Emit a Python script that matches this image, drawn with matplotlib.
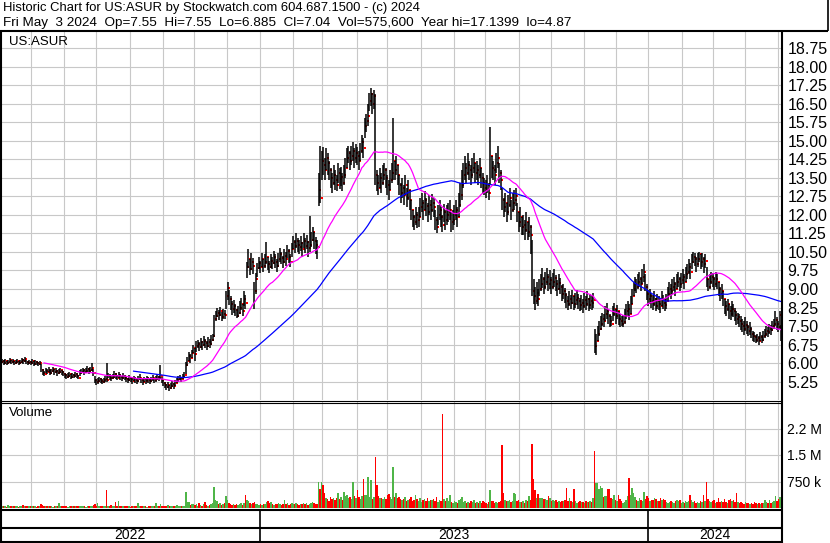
import numpy as np
import pandas as pd
import matplotlib
matplotlib.use("Agg")
import matplotlib.pyplot as plt

plt.rcParams['font.family'] = ['Liberation Sans', 'DejaVu Sans']

# Un valor por dia habil (2022-05-03 .. 2024-05-03)
fechas = pd.bdate_range("2022-05-03", "2024-05-03")

cierre = [
    6.05, 6.10, 6.02, 6.08, 6.00, 6.06, 6.12, 6.04, 6.08, 6.02,
    6.06, 6.10, 6.00, 6.05, 6.12, 6.08, 6.18, 6.04, 6.00, 6.06,
    6.02, 6.08, 5.98, 6.04, 6.00, 5.96, 6.02, 5.72, 5.62, 5.58,
    5.70, 5.66, 5.74, 5.62, 5.68, 5.76, 5.64, 5.70, 5.60, 5.66,
    5.72, 5.64, 5.58, 5.52, 5.46, 5.50, 5.56, 5.44, 5.52, 5.48,
    5.56, 5.50, 5.42, 5.60, 5.66, 5.72, 5.64, 5.70, 5.76, 5.68,
    5.74, 5.80, 5.62, 5.30, 5.22, 5.26, 5.34, 5.28, 5.24, 5.30,
    5.36, 5.30, 5.50, 5.42, 5.38, 5.46, 5.55, 5.48, 5.40, 5.52,
    5.44, 5.38, 5.48, 5.42, 5.36, 5.30, 5.40, 5.34, 5.28, 5.38,
    5.32, 5.26, 5.36, 5.42, 5.30, 5.24, 5.34, 5.28, 5.38, 5.32,
    5.26, 5.34, 5.40, 5.30, 5.36, 5.44, 5.38, 5.50, 5.30, 5.18,
    5.10, 5.04, 5.12, 5.00, 5.06, 5.14, 5.08, 5.20, 5.30, 5.36,
    5.42, 5.34, 5.46, 5.52, 5.92, 6.10, 6.30, 6.20, 6.40, 6.60,
    6.38, 6.70, 6.78, 6.66, 6.84, 6.72, 6.90, 6.80, 6.70, 6.86,
    6.78, 6.94, 7.10, 7.80, 7.90, 8.05, 7.95, 8.10, 7.88, 8.00,
    7.96, 8.70, 9.05, 8.60, 8.40, 8.20, 8.30, 8.15, 7.90, 8.05,
    8.25, 8.40, 8.10, 8.60, 8.45, 9.90, 10.20, 9.80, 10.10, 9.95,
    8.90, 9.40, 9.85, 10.05, 9.90, 10.20, 9.95, 10.10, 10.30, 10.00,
    9.90, 10.15, 10.05, 10.30, 10.10, 9.95, 10.20, 10.40, 10.25, 10.10,
    10.35, 10.20, 10.55, 10.30, 10.10, 10.60, 10.90, 10.75, 10.95, 10.80,
    10.70, 10.85, 10.60, 10.95, 10.75, 10.90, 10.65, 10.80, 11.00, 11.30,
    10.95, 10.80, 10.70, 13.00, 12.70, 14.20, 14.00, 13.80, 14.30, 14.10,
    13.80, 13.50, 13.30, 13.60, 13.40, 13.20, 13.70, 13.45, 13.55, 13.30,
    13.60, 13.90, 14.30, 14.50, 14.20, 14.40, 14.60, 14.30, 14.50, 14.40,
    14.20, 14.60, 14.95, 14.70, 15.60, 15.80, 16.00, 16.60, 16.90, 16.50,
    16.80, 13.60, 13.30, 13.10, 13.50, 13.30, 13.60, 13.80, 13.50, 13.20,
    13.00, 13.40, 13.70, 14.20, 13.80, 14.00, 13.60, 13.20, 12.90, 13.10,
    12.80, 13.20, 12.70, 13.00, 12.60, 12.20, 11.90, 11.70, 12.00, 11.80,
    11.90, 12.30, 12.50, 12.20, 12.60, 12.35, 12.10, 12.40, 12.20, 12.50,
    12.30, 11.80, 11.50, 12.00, 12.20, 11.90, 11.60, 12.10, 11.80, 12.00,
    12.10, 12.20, 11.70, 11.80, 12.00, 12.20, 11.90, 12.40, 12.80, 13.20,
    13.60, 13.90, 13.70, 14.00, 13.80, 13.60, 13.90, 14.10, 13.70, 13.80,
    13.60, 13.90, 13.50, 13.30, 13.10, 13.00, 13.20, 12.90, 14.40, 13.90,
    13.80, 13.60, 14.10, 14.30, 13.70, 13.40, 12.60, 12.30, 12.50, 12.10,
    12.40, 12.70, 12.20, 12.50, 12.60, 12.75, 12.10, 11.70, 11.90, 11.50,
    11.60, 11.40, 11.70, 11.30, 11.50, 11.20, 8.90, 8.70, 8.50, 8.85,
    8.60, 9.00, 9.20, 9.40, 9.10, 9.30, 9.50, 9.20, 9.35, 9.10,
    9.30, 9.45, 9.20, 9.00, 9.25, 9.10, 8.80, 8.90, 8.75, 8.50,
    8.40, 8.60, 8.45, 8.70, 8.40, 8.55, 8.65, 8.50, 8.35, 8.45,
    8.30, 8.55, 8.40, 8.60, 8.35, 8.50, 8.45, 8.55, 6.70, 6.90,
    7.20, 7.40, 7.60, 7.80, 7.70, 8.00, 8.10, 7.90, 7.70, 7.60,
    8.00, 8.20, 7.90, 8.10, 7.80, 7.70, 7.60, 7.65, 7.90, 8.10,
    8.20, 8.00, 8.40, 8.70, 9.00, 9.20, 9.10, 9.30, 9.40, 9.20,
    9.50, 9.70, 9.10, 8.80, 8.60, 8.70, 8.50, 8.40, 8.60, 8.30,
    8.50, 8.40, 8.30, 8.60, 8.45, 8.35, 8.50, 8.80, 9.00, 8.90,
    9.10, 9.20, 9.00, 9.30, 9.40, 9.20, 9.35, 9.50, 9.30, 9.60,
    9.70, 9.90, 9.70, 10.10, 10.30, 10.20, 10.00, 10.20, 10.40, 10.10,
    10.20, 10.00, 10.15, 9.40, 9.10, 9.30, 9.50, 9.40, 9.20, 9.40,
    9.30, 9.00, 8.80, 8.90, 8.60, 8.30, 8.20, 8.40, 8.10, 8.00,
    8.20, 8.10, 7.95, 7.80, 7.85, 7.70, 7.60, 7.50, 7.40, 7.55,
    7.45, 7.30, 7.40, 7.20, 7.10, 7.05, 6.95, 7.00, 6.90, 7.05,
    6.95, 7.10, 7.20, 7.30, 7.25, 7.40, 7.35, 7.50, 7.60, 7.75,
    7.60, 7.45, 7.95, 7.04,
]

maximo = [
    6.14, 6.16, 6.12, 6.15, 6.10, 6.14, 6.20, 6.12, 6.16, 6.10,
    6.14, 6.18, 6.10, 6.14, 6.20, 6.16, 6.26, 6.14, 6.10, 6.14,
    6.10, 6.16, 6.08, 6.12, 6.10, 6.06, 6.10, 5.98, 5.76, 5.70,
    5.80, 5.76, 5.84, 5.74, 5.78, 5.86, 5.76, 5.80, 5.72, 5.76,
    5.82, 5.74, 5.68, 5.62, 5.56, 5.60, 5.66, 5.56, 5.62, 5.58,
    5.66, 5.60, 5.54, 5.72, 5.78, 5.82, 5.76, 5.82, 5.88, 5.80,
    5.86, 6.00, 5.78, 5.50, 5.34, 5.38, 5.46, 5.40, 5.36, 5.42,
    5.48, 6.00, 5.62, 5.56, 5.50, 5.58, 5.68, 5.60, 5.52, 5.66,
    5.56, 5.50, 5.60, 5.54, 5.48, 5.42, 5.52, 5.46, 5.40, 5.50,
    5.44, 5.38, 5.48, 5.56, 5.42, 5.36, 5.46, 5.40, 5.50, 5.44,
    5.38, 5.46, 5.52, 5.42, 5.48, 5.56, 5.50, 5.93, 5.44, 5.30,
    5.22, 5.16, 5.24, 5.12, 5.18, 5.26, 5.20, 5.32, 5.42, 5.48,
    5.54, 5.46, 5.58, 5.66, 6.05, 6.25, 6.45, 6.38, 6.55, 6.75,
    6.62, 6.88, 6.95, 6.84, 7.00, 6.90, 7.08, 6.98, 6.88, 7.04,
    6.98, 7.12, 7.20, 7.95, 8.10, 8.22, 8.15, 8.28, 8.06, 8.18,
    8.15, 8.90, 9.30, 8.95, 8.70, 8.50, 8.55, 8.40, 8.20, 8.30,
    8.50, 8.65, 8.40, 8.90, 8.75, 10.10, 10.60, 10.20, 10.45, 10.25,
    9.30, 9.65, 10.05, 10.30, 10.15, 10.45, 10.20, 10.40, 10.90, 10.30,
    10.15, 10.40, 10.30, 10.55, 10.40, 10.20, 10.45, 10.65, 10.50, 10.35,
    10.60, 10.50, 10.80, 10.60, 10.40, 10.85, 11.15, 11.00, 11.25, 11.05,
    11.00, 11.15, 10.90, 11.25, 11.05, 11.20, 10.95, 11.95, 11.30, 11.50,
    11.30, 11.10, 11.00, 13.70, 14.80, 14.60, 14.75, 14.30, 14.70, 14.50,
    14.20, 13.90, 13.70, 14.00, 13.80, 13.60, 14.10, 13.90, 13.95, 13.70,
    14.00, 14.30, 14.70, 14.80, 14.60, 14.80, 14.95, 14.70, 14.85, 14.75,
    14.60, 14.90, 15.25, 15.10, 15.90, 16.10, 16.50, 16.95, 17.14, 16.95,
    17.05, 16.90, 13.80, 13.60, 13.90, 13.70, 14.00, 14.10, 13.90, 13.60,
    13.40, 13.80, 14.10, 15.90, 14.20, 14.40, 14.00, 13.60, 13.30, 13.50,
    13.20, 13.60, 13.10, 13.40, 13.00, 12.60, 12.20, 12.00, 12.30, 12.10,
    12.30, 12.70, 12.90, 12.60, 12.95, 12.70, 12.50, 12.80, 12.60, 12.85,
    12.70, 12.20, 11.90, 12.40, 12.60, 12.30, 12.00, 12.45, 12.20, 12.40,
    12.50, 12.60, 12.10, 12.20, 12.40, 12.60, 12.30, 12.90, 13.30, 13.80,
    14.10, 14.40, 14.10, 14.50, 14.20, 14.00, 14.30, 14.50, 14.10, 14.20,
    14.00, 14.30, 13.90, 13.70, 13.50, 13.40, 13.60, 13.30, 15.55, 14.40,
    14.20, 14.00, 14.50, 14.80, 14.10, 13.80, 13.10, 12.70, 12.90, 12.50,
    12.80, 13.10, 12.60, 12.90, 13.00, 13.10, 12.50, 12.10, 12.30, 11.90,
    12.00, 11.80, 12.10, 11.70, 11.90, 11.60, 11.00, 9.40, 9.10, 9.30,
    9.00, 9.40, 9.60, 9.85, 9.50, 9.70, 9.85, 9.60, 9.75, 9.50,
    9.65, 9.80, 9.55, 9.35, 9.60, 9.45, 9.15, 9.20, 9.05, 8.85,
    8.70, 8.90, 8.75, 8.95, 8.70, 8.85, 8.95, 8.80, 8.65, 8.75,
    8.60, 8.85, 8.70, 8.90, 8.65, 8.80, 8.75, 8.85, 7.40, 7.20,
    7.50, 7.70, 7.90, 8.05, 8.00, 8.30, 8.45, 8.20, 8.00, 7.90,
    8.30, 8.45, 8.20, 8.35, 8.10, 8.00, 7.90, 7.95, 8.20, 8.40,
    8.50, 8.40, 8.70, 9.00, 9.30, 9.50, 9.40, 9.60, 9.70, 9.50,
    9.80, 10.00, 9.60, 9.20, 8.95, 9.00, 8.85, 8.75, 8.90, 8.65,
    8.80, 8.70, 8.60, 8.90, 8.75, 8.65, 8.80, 9.10, 9.30, 9.20,
    9.40, 9.50, 9.30, 9.60, 9.70, 9.50, 9.65, 9.80, 9.60, 9.90,
    10.00, 10.20, 10.05, 10.40, 10.50, 10.45, 10.30, 10.45, 10.50, 10.40,
    10.45, 10.30, 10.40, 9.90, 9.40, 9.60, 9.70, 9.65, 9.50, 9.70,
    9.60, 9.30, 9.10, 9.20, 8.90, 8.60, 8.50, 8.60, 8.40, 8.30,
    8.50, 8.40, 8.25, 8.10, 8.05, 8.00, 7.90, 7.80, 7.70, 7.85,
    7.70, 7.55, 7.65, 7.45, 7.30, 7.25, 7.15, 7.20, 7.10, 7.25,
    7.15, 7.30, 7.40, 7.50, 7.45, 7.60, 7.55, 7.70, 7.80, 8.10,
    7.85, 7.70, 8.10, 7.55,
]

minimo = [
    5.96, 6.00, 5.94, 5.98, 5.92, 5.98, 6.02, 5.95, 6.00, 5.94,
    5.98, 6.00, 5.92, 5.96, 6.02, 5.98, 6.06, 5.96, 5.92, 5.96,
    5.94, 5.98, 5.90, 5.94, 5.92, 5.88, 5.92, 5.66, 5.52, 5.50,
    5.60, 5.56, 5.64, 5.52, 5.58, 5.66, 5.54, 5.60, 5.50, 5.56,
    5.62, 5.54, 5.48, 5.42, 5.36, 5.40, 5.46, 5.36, 5.42, 5.38,
    5.46, 5.40, 5.34, 5.50, 5.56, 5.62, 5.54, 5.60, 5.66, 5.58,
    5.64, 5.68, 5.50, 5.20, 5.12, 5.16, 5.22, 5.18, 5.14, 5.20,
    5.24, 5.22, 5.38, 5.32, 5.28, 5.34, 5.42, 5.36, 5.30, 5.40,
    5.32, 5.26, 5.36, 5.30, 5.24, 5.18, 5.28, 5.22, 5.16, 5.26,
    5.20, 5.14, 5.24, 5.30, 5.18, 5.12, 5.22, 5.16, 5.26, 5.20,
    5.14, 5.22, 5.28, 5.18, 5.24, 5.32, 5.26, 5.36, 5.18, 5.06,
    4.98, 4.92, 5.00, 4.87, 4.94, 5.02, 4.96, 5.08, 5.18, 5.24,
    5.30, 5.22, 5.34, 5.40, 5.55, 5.90, 6.10, 6.02, 6.20, 6.40,
    6.10, 6.45, 6.60, 6.48, 6.62, 6.55, 6.70, 6.62, 6.52, 6.66,
    6.60, 6.74, 6.90, 7.05, 7.70, 7.85, 7.75, 7.90, 7.70, 7.80,
    7.78, 8.20, 8.55, 8.35, 8.15, 7.95, 8.05, 7.90, 7.83, 7.85,
    8.00, 8.15, 7.90, 8.30, 8.20, 9.45, 9.85, 9.55, 9.75, 9.60,
    8.20, 8.80, 9.50, 9.80, 9.65, 9.90, 9.70, 9.85, 10.00, 9.75,
    9.65, 9.85, 9.80, 10.00, 9.85, 9.70, 9.90, 10.10, 10.00, 9.85,
    10.05, 9.95, 10.25, 10.05, 9.90, 10.30, 10.60, 10.45, 10.65, 10.50,
    10.40, 10.55, 10.30, 10.65, 10.45, 10.60, 10.30, 10.50, 10.70, 10.95,
    10.60, 10.40, 10.20, 12.35, 12.50, 13.40, 13.60, 13.40, 13.80, 13.60,
    13.40, 13.10, 12.90, 13.20, 13.00, 12.95, 13.30, 13.05, 13.15, 12.95,
    13.20, 13.50, 13.90, 14.10, 13.80, 14.00, 14.20, 13.90, 14.10, 14.00,
    13.80, 14.20, 14.50, 14.30, 15.10, 15.35, 15.60, 16.20, 16.40, 16.10,
    16.30, 13.20, 12.95, 12.80, 13.10, 12.90, 13.20, 13.40, 13.10, 12.80,
    12.60, 13.00, 13.30, 13.40, 13.40, 13.60, 13.20, 12.80, 12.50, 12.70,
    12.40, 12.80, 12.30, 12.60, 12.20, 11.80, 11.50, 11.40, 11.60, 11.45,
    11.50, 11.90, 12.10, 11.80, 12.20, 11.95, 11.70, 12.00, 11.80, 12.10,
    11.90, 11.40, 11.27, 11.60, 11.80, 11.50, 11.30, 11.70, 11.40, 11.60,
    11.70, 11.80, 11.30, 11.40, 11.60, 11.80, 11.50, 11.90, 12.30, 12.60,
    13.10, 13.40, 13.30, 13.60, 13.40, 13.20, 13.50, 13.70, 13.30, 13.40,
    13.20, 13.50, 13.10, 12.90, 12.80, 12.70, 12.90, 12.60, 13.20, 13.50,
    13.40, 13.20, 13.70, 13.90, 13.30, 13.00, 12.20, 11.90, 12.10, 11.70,
    12.00, 12.30, 11.80, 12.10, 12.20, 12.35, 11.70, 11.30, 11.50, 11.20,
    11.20, 11.00, 11.30, 11.00, 11.10, 10.40, 8.70, 8.40, 8.15, 8.40,
    8.30, 8.70, 8.90, 9.05, 8.80, 9.00, 9.15, 8.90, 9.00, 8.80,
    9.00, 9.10, 8.90, 8.70, 8.95, 8.80, 8.50, 8.60, 8.45, 8.25,
    8.15, 8.30, 8.20, 8.40, 8.15, 8.25, 8.35, 8.20, 8.10, 8.15,
    8.05, 8.25, 8.15, 8.30, 8.10, 8.20, 8.15, 8.25, 6.40, 6.33,
    6.90, 7.10, 7.35, 7.50, 7.45, 7.70, 7.80, 7.60, 7.45, 7.50,
    7.70, 7.90, 7.60, 7.80, 7.55, 7.45, 7.50, 7.45, 7.60, 7.80,
    7.90, 7.75, 8.00, 8.40, 8.70, 8.90, 8.85, 9.00, 9.10, 8.90,
    9.20, 9.30, 8.90, 8.55, 8.30, 8.40, 8.25, 8.15, 8.30, 8.10,
    8.20, 8.15, 8.05, 8.30, 8.20, 8.10, 8.20, 8.50, 8.70, 8.60,
    8.80, 8.90, 8.70, 9.00, 9.10, 8.90, 9.05, 9.20, 9.00, 9.30,
    9.40, 9.60, 9.40, 9.80, 10.05, 9.95, 9.70, 9.90, 10.10, 9.80,
    9.90, 9.65, 9.85, 9.10, 8.90, 9.00, 9.20, 9.10, 8.95, 9.10,
    9.00, 8.70, 8.50, 8.60, 8.30, 8.00, 7.90, 8.10, 7.80, 7.75,
    7.90, 7.85, 7.70, 7.55, 7.60, 7.45, 7.35, 7.26, 7.15, 7.30,
    7.20, 7.10, 7.15, 7.00, 6.90, 6.85, 6.80, 6.85, 6.75, 6.90,
    6.80, 6.90, 7.00, 7.10, 7.05, 7.20, 7.15, 7.30, 7.40, 7.50,
    7.35, 7.25, 7.40, 6.885,
]

# volumen en miles de acciones
volumen_k = [
    60, 45, 70, 55, 40, 80, 50, 65, 45, 60,
    55, 70, 40, 60, 50, 96, 45, 55, 70, 50,
    60, 45, 55, 65, 40, 50, 60, 110, 80, 70,
    55, 45, 60, 50, 70, 40, 55, 60, 45, 134,
    50, 60, 45, 70, 55, 40, 65, 50, 60, 45,
    55, 70, 60, 45, 50, 65, 55, 40, 60, 50,
    45, 70, 80, 100, 60, 144, 55, 50, 65, 45,
    60, 500, 70, 55, 80, 65, 60, 173, 50, 192,
    55, 60, 45, 70, 50, 65, 55, 40, 60, 50,
    45, 55, 144, 60, 50, 45, 65, 55, 40, 60,
    50, 70, 55, 60, 144, 45, 55, 110, 65, 70,
    60, 50, 75, 55, 65, 45, 60, 70, 80, 55,
    65, 50, 60, 70, 450, 180, 160, 90, 110, 120,
    80, 100, 70, 144, 90, 60, 110, 173, 80, 70,
    90, 110, 150, 585, 230, 192, 120, 150, 90, 100,
    130, 336, 220, 140, 110, 90, 100, 80, 120, 95,
    110, 130, 90, 150, 355, 240, 200, 130, 110, 144,
    180, 120, 100, 90, 110, 80, 100, 120, 170, 190,
    150, 180, 110, 90, 120, 100, 130, 110, 95, 120,
    240, 110, 130, 90, 100, 144, 120, 100, 130, 110,
    90, 120, 100, 140, 110, 130, 95, 120, 150, 173,
    130, 110, 120, 740, 530, 740, 645, 430, 290, 250,
    210, 300, 260, 290, 230, 290, 430, 250, 300, 220,
    450, 330, 380, 280, 300, 260, 750, 340, 290, 500,
    300, 260, 350, 816, 380, 380, 864, 300, 800, 260,
    310, 1440, 653, 330, 280, 290, 250, 310, 260, 380,
    400, 300, 250, 1150, 320, 430, 280, 310, 260, 230,
    250, 300, 190, 220, 260, 310, 200, 240, 380, 250,
    210, 290, 180, 230, 250, 200, 270, 190, 220, 240,
    260, 210, 300, 180, 230, 190, 2660, 250, 200, 280,
    210, 355, 180, 150, 200, 170, 130, 240, 260, 300,
    180, 210, 150, 170, 130, 200, 160, 240, 140, 180,
    150, 190, 130, 210, 170, 140, 120, 180, 500, 210,
    190, 150, 170, 140, 180, 210, 1770, 413, 240, 210,
    190, 230, 180, 200, 413, 385, 210, 240, 180, 160,
    200, 150, 230, 190, 336, 220, 1820, 816, 500, 290,
    385, 270, 270, 280, 260, 250, 230, 336, 290, 200,
    240, 190, 220, 180, 210, 170, 200, 190, 230, 576,
    210, 290, 200, 180, 528, 190, 150, 170, 190, 160,
    170, 150, 190, 180, 160, 200, 180, 270, 1610, 720,
    700, 528, 620, 560, 300, 330, 350, 530, 530, 290,
    260, 360, 240, 200, 360, 250, 190, 150, 180, 230,
    336, 845, 380, 576, 430, 300, 240, 190, 270, 220,
    200, 460, 250, 336, 290, 210, 240, 230, 280, 260,
    190, 210, 270, 230, 250, 220, 180, 150, 170, 200,
    160, 150, 190, 240, 210, 220, 150, 180, 140, 200,
    170, 190, 380, 220, 160, 190, 140, 170, 150, 200,
    180, 360, 190, 750, 250, 200, 160, 190, 220, 150,
    170, 290, 160, 200, 180, 250, 170, 140, 220, 260,
    190, 230, 160, 413, 180, 150, 170, 140, 120, 160,
    130, 150, 115, 140, 120, 160, 130, 110, 140, 125,
    150, 130, 240, 160, 140, 240, 150, 180, 200, 336,
    200, 250, 300, 575.6,
]

precio_ticks = [5.25, 6.00, 6.75, 7.50, 8.25, 9.00, 9.75, 10.50, 11.25, 12.00,
                12.75, 13.50, 14.25, 15.00, 15.75, 16.50, 17.25, 18.00, 18.75]
vol_ticks = [750000, 1500000, 2250000]
vol_etiquetas = ["750 k", "1.5 M", "2.2 M"]

titulo1 = "Historic Chart for US:ASUR by Stockwatch.com 604.687.1500 - (c) 2024"
titulo2 = ("Fri May  3 2024  Op=7.55  Hi=7.55  Lo=6.885  Cl=7.04  "
           "Vol=575,600  Year hi=17.1399  lo=4.87")

n = len(fechas)
for nombre, serie in [("cierre", cierre), ("maximo", maximo),
                      ("minimo", minimo), ("volumen", volumen_k)]:
    if len(serie) != n:
        print(f"ERROR: {nombre} tiene {len(serie)} valores, se esperaban {n}")

x = np.arange(n)
cierre_s = pd.Series(cierre)
media30 = cierre_s.rolling(30).mean()
media90 = cierre_s.rolling(90).mean()
volumen = np.array(volumen_k) * 1000

# color del volumen segun sube / baja el cierre
cambio = cierre_s.diff().fillna(0).values
colores = np.where(cambio > 0, "#4fb548", np.where(cambio < 0, "#ff0000", "#a0a0a0"))

# inicio de cada mes y de cada año
inicio_mes = np.array([i for i in range(1, n) if fechas[i].month != fechas[i - 1].month])
inicio_anio = np.array([i for i in range(1, n) if fechas[i].year != fechas[i - 1].year])

W, H = 830, 543


def caja(x0, y0, x1, y1):
    return [x0 / W, 1 - y1 / H, (x1 - x0) / W, (y1 - y0) / H]


fig = plt.figure(figsize=(W / 100, H / 100), dpi=100)
fig.patch.set_facecolor("white")

gris = "#c8c8c8"

# Panel de precios
ax_p = fig.add_axes(caja(0, 31, 782, 400))
ax_p.set_xlim(-0.5, n - 0.5)
ax_p.set_ylim(4.51, 19.44)
ax_p.scatter(x + 1.0, cierre, marker="s", s=3.5, color="#ff0000", linewidths=0, zorder=2)
ax_p.vlines(x, minimo, maximo, color="black", lw=1.1, zorder=3)
ax_p.plot(x, media90, color="#0000ff", lw=0.9, zorder=4)
ax_p.plot(x, media30, color="#ff00ff", lw=0.9, zorder=4)
ax_p.set_yticks(precio_ticks)
ax_p.set_yticklabels([f"{t:.2f}" for t in precio_ticks])
ax_p.set_xticks(inicio_mes - 0.5)
ax_p.grid(True, color=gris, lw=0.8)
ax_p.set_axisbelow(True)
ax_p.tick_params(axis="x", length=0, labelbottom=False)
ax_p.tick_params(axis="y", length=0, left=False, labelleft=False, right=True,
                 labelright=True, pad=4, labelsize=11.5)
for s in ax_p.spines.values():
    s.set_visible(False)

# Panel de volumen
ax_v = fig.add_axes(caja(0, 402, 782, 508), sharex=ax_p)
ax_v.bar(x, volumen, width=1.0, color=colores, linewidth=0, zorder=3)
ax_v.set_ylim(0, 3.0e6)
ax_v.set_yticks(vol_ticks)
ax_v.set_yticklabels(vol_etiquetas)
ax_v.grid(True, color=gris, lw=0.8)
ax_v.set_axisbelow(True)
ax_v.tick_params(axis="x", length=0, labelbottom=False)
ax_v.tick_params(axis="y", length=0, left=False, labelleft=False, right=True,
                 labelright=True, pad=3.5, labelsize=10)
for s in ax_v.spines.values():
    s.set_visible(False)

# Franja de años
ax_a = fig.add_axes(caja(0, 509, 782, 541), sharex=ax_p)
ax_a.set_ylim(0, 1)
ax_a.axis("off")
ax_a.vlines(inicio_anio - 0.5, 0, 1, color="black", lw=1.2)
bordes = [0] + list(inicio_anio) + [n]
for a, b in zip(bordes[:-1], bordes[1:]):
    ax_a.text((a + b) / 2 - 0.5, 0.2, str(fechas[a].year), ha="center", va="center",
              fontsize=10)

# Capa para textos y marcos en pixeles
ax0 = fig.add_axes([0, 0, 1, 1], zorder=10)
ax0.set_xlim(0, W)
ax0.set_ylim(H, 0)
ax0.axis("off")
ax0.patch.set_alpha(0)

ax0.text(3, 8, titulo1, fontsize=9.4, va="center")
ax0.text(3, 23, titulo2, fontsize=9.7, va="center")
ax0.text(9, 42, "US:ASUR", fontsize=9.5, va="center")
ax0.text(9, 413, "Volume", fontsize=9.5, va="center")

negro = dict(color="black", solid_capstyle="butt")
ax0.plot([0, 828], [30.5, 30.5], lw=1.5, **negro)
ax0.plot([827.5, 827.5], [0, 31], lw=1.2, **negro)
ax0.plot([1, 1], [31, 543], lw=1.5, **negro)
ax0.plot([782, 782], [31, 543], lw=1.5, **negro)
ax0.plot([0, 782], [400.5, 400.5], lw=0.8, **negro)
ax0.plot([0, 782], [402.5, 402.5], lw=0.8, **negro)
ax0.plot([0, 782], [509.5, 509.5], lw=1.5, **negro)
ax0.plot([0, 782], [527.5, 527.5], lw=1.5, **negro)
ax0.plot([0, 782], [541.5, 541.5], lw=1.5, **negro)

fig.savefig("out.png", dpi=100, facecolor="white")
print("Grafica guardada: out.png")
